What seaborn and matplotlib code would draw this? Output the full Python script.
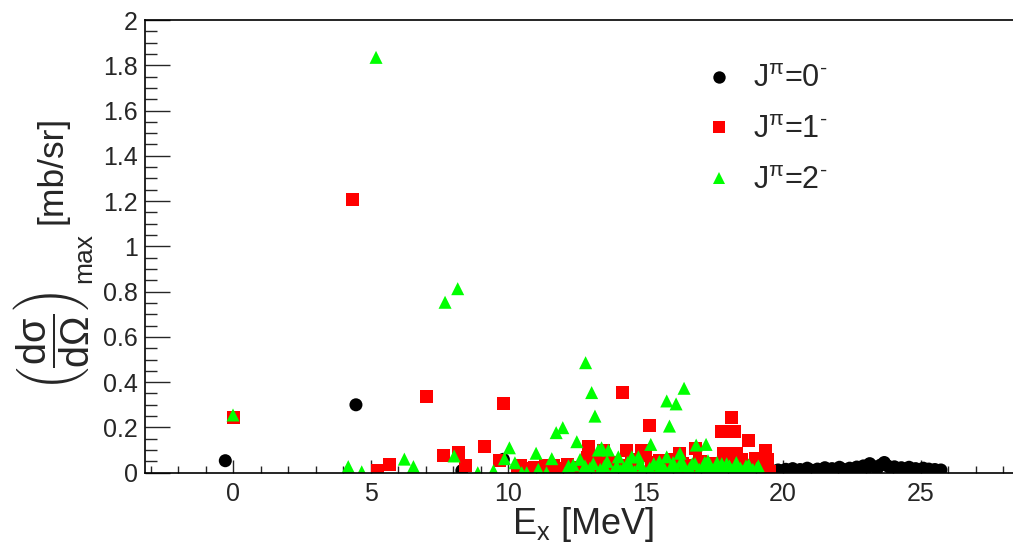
import numpy as np
import pandas as pd
import matplotlib
matplotlib.use("Agg")
import matplotlib.pyplot as plt
import seaborn as sns
from matplotlib.ticker import MultipleLocator, FuncFormatter

# ---------------- data ----------------
ex0 = [-0.28, 4.47, 8.32, 9.83, 12.45, 12.55, 14.07, 15.5, 15.7, 16.3, 17.0, 19.55,
       19.7, 19.82, 19.95, 20.1, 20.22, 20.35, 20.5, 20.62, 20.75, 20.88, 21.0, 21.12,
       21.25, 21.4, 21.52, 21.65, 21.78, 21.9, 22.05, 22.18, 22.3, 22.42, 22.55, 22.68,
       22.8, 22.92, 23.05, 23.15, 23.28, 23.42, 23.55, 23.68, 23.8, 23.92, 24.05, 24.18,
       24.3, 24.45, 24.58, 24.7, 24.82, 24.95, 25.1, 25.2, 25.3, 25.42, 25.52, 25.63, 25.74]
y0 = [0.053, 0.300, 0.009, 0.059, 0.002, 0.010, 0.012, 0.003, 0.005, 0.004, 0.006, 0.010,
      0.006, 0.012, 0.008, 0.015, 0.010, 0.018, 0.008, 0.014, 0.010, 0.020, 0.012, 0.008,
      0.016, 0.010, 0.022, 0.014, 0.018, 0.012, 0.024, 0.015, 0.010, 0.020, 0.013, 0.025,
      0.018, 0.030, 0.022, 0.040, 0.028, 0.018, 0.034, 0.045, 0.030, 0.020, 0.026, 0.016,
      0.022, 0.012, 0.024, 0.014, 0.018, 0.010, 0.020, 0.012, 0.016, 0.008, 0.014, 0.010, 0.012]

ex1 = [0.01, 4.36, 5.25, 5.69, 7.02, 7.65, 8.19, 8.44, 9.14, 9.68, 9.83, 10.35, 10.55,
       10.75, 10.95, 11.15, 11.35, 11.55, 11.8, 11.95, 12.15, 12.35, 12.6, 12.9, 12.92,
       12.98, 13.2, 13.47, 13.7, 13.9, 14.17, 14.3, 14.5, 14.7, 14.86, 15.0, 15.13, 15.3,
       15.5, 15.7, 15.9, 16.1, 16.25, 16.45, 16.6, 16.8, 16.98, 17.2, 17.4, 17.6, 17.75,
       17.84, 18.0, 18.07, 18.11, 18.25, 18.3, 18.4, 18.56, 18.74, 18.9, 18.98, 19.2,
       19.37, 19.4, 19.5,
       10.45, 10.65, 10.85, 11.05, 11.25, 11.45, 11.65, 12.05, 12.25, 12.45, 12.75, 13.05,
       13.35, 13.55, 13.8, 14.05, 14.4, 14.6, 15.2, 15.4, 15.8, 16.0, 16.35, 16.7, 17.05,
       17.3, 17.5, 17.9, 18.2, 18.5, 18.8, 19.1, 19.3, 19.45]
y1 = [0.245, 1.206, 0.009, 0.038, 0.336, 0.077, 0.090, 0.030, 0.115, 0.056, 0.304, 0.010, 0.020,
      0.005, 0.025, 0.012, 0.030, 0.008, 0.020, 0.020, 0.035, 0.010, 0.004, 0.065, 0.115,
      0.070, 0.004, 0.100, 0.030, 0.015, 0.355, 0.100, 0.040, 0.034, 0.100, 0.078, 0.210, 0.020,
      0.056, 0.010, 0.040, 0.020, 0.086, 0.005, 0.030, 0.108, 0.050, 0.015, 0.040, 0.027, 0.181,
      0.086, 0.020, 0.056, 0.246, 0.181, 0.086, 0.040, 0.027, 0.141, 0.004, 0.064, 0.015,
      0.096, 0.027, 0.005,
      0.030, 0.015, 0.010, 0.005, 0.020, 0.015, 0.030, 0.005, 0.025, 0.015, 0.030, 0.020,
      0.040, 0.010, 0.045, 0.030, 0.010, 0.060, 0.045, 0.010, 0.030, 0.060, 0.040, 0.015, 0.020,
      0.030, 0.010, 0.040, 0.010, 0.060, 0.030, 0.040, 0.010, 0.060]

ex2 = [0.0, 4.19, 4.68, 5.2, 6.23, 6.56, 7.71, 8.04, 8.17, 8.9, 9.47, 9.87, 10.05, 10.25,
       10.5, 10.68, 11.02, 11.1, 11.4, 11.59, 11.75, 11.99, 12.08, 12.37, 12.5, 12.62, 12.8,
       12.82, 12.98, 13.04, 13.16, 13.28, 13.4, 13.5, 13.65, 13.8, 14.01, 14.2, 14.35, 14.5,
       14.6, 14.74, 14.9, 15.05, 15.19, 15.3, 15.45, 15.6, 15.77, 15.77, 15.87, 15.95, 16.11,
       16.25, 16.4, 16.4, 16.55, 16.7, 16.84, 16.95, 17.1, 17.2, 17.27, 17.4, 17.55, 17.77,
       17.9, 18.05, 18.2, 18.35, 18.5, 18.65, 18.8, 19.04, 19.15,
       12.2, 12.7, 13.1, 13.35, 13.6, 13.95, 14.1, 14.45, 14.8, 15.15, 15.5, 15.7, 16.0,
       16.15, 16.3, 16.6, 16.8, 17.0, 17.15, 17.35, 17.6, 17.7, 17.95, 18.1, 18.3, 18.45,
       18.6, 18.75, 18.9, 19.1]
y2 = [0.255, 0.027, 0.004, 1.835, 0.060, 0.027, 0.753, 0.074, 0.813, 0.000, 0.009, 0.062, 0.110, 0.044,
      0.000, 0.000, 0.086, 0.015, 0.000, 0.062, 0.177, 0.199, 0.000, 0.034, 0.137, 0.059, 0.030,
      0.486, 0.020, 0.354, 0.250, 0.100, 0.110, 0.030, 0.100, 0.000, 0.070, 0.020, 0.045, 0.070,
      0.005, 0.070, 0.020, 0.000, 0.125, 0.040, 0.010, 0.030, 0.317, 0.070, 0.206, 0.020, 0.304,
      0.086, 0.373, 0.030, 0.005, 0.040, 0.122, 0.015, 0.030, 0.125, 0.053, 0.005, 0.025, 0.040,
      0.010, 0.030, 0.005, 0.025, 0.010, 0.030, 0.005, 0.020, 0.000,
      0.030, 0.005, 0.040, 0.015, 0.050, 0.030, 0.010, 0.025, 0.040, 0.020, 0.050, 0.015, 0.045,
      0.010, 0.050, 0.020, 0.040, 0.005, 0.045, 0.020, 0.045, 0.010, 0.040, 0.015, 0.045, 0.020,
      0.005, 0.035, 0.015, 0.030]

labels = ["J$^{\\pi}$=0$^{\u2010}$", "J$^{\\pi}$=1$^{\u2010}$", "J$^{\\pi}$=2$^{\u2010}$"]
colors = ["#000000", "#ff0000", "#00ff00"]
markers = ["o", "s", "^"]

df = pd.DataFrame({
    "Ex": ex0 + ex1 + ex2,
    "xs": y0 + y1 + y2,
    "state": [labels[0]] * len(ex0) + [labels[1]] * len(ex1) + [labels[2]] * len(ex2),
})

# ---------------- style ----------------
sns.set_theme(style="ticks")
plt.rcParams["font.family"] = ["Liberation Sans", "DejaVu Sans"]
plt.rcParams["mathtext.fontset"] = "custom"
plt.rcParams["mathtext.rm"] = "Liberation Sans"
plt.rcParams["mathtext.it"] = "Liberation Sans"
plt.rcParams["mathtext.bf"] = "Liberation Sans:bold"
plt.rcParams["mathtext.default"] = "regular"

fig = plt.figure(figsize=(10.13, 5.45), dpi=100)
L, R, B, T = 145, 1013, 472.7, 20
ax = fig.add_axes([L / 1013, 1 - B / 545, (R - L) / 1013, (B - T) / 545])

sns.scatterplot(data=df, x="Ex", y="xs", hue="state", style="state",
                hue_order=labels, style_order=labels,
                palette=dict(zip(labels, colors)), markers=dict(zip(labels, markers)),
                s=88, linewidth=0, edgecolor="none", ax=ax, legend=True)

ax.set_xlim(-3.2, 28.36)
ax.set_ylim(0, 2)
ax.set_xlabel("")
ax.set_ylabel("")

ax.xaxis.set_major_locator(MultipleLocator(5))
ax.xaxis.set_minor_locator(MultipleLocator(1))
ax.yaxis.set_major_locator(MultipleLocator(0.2))
ax.yaxis.set_minor_locator(MultipleLocator(0.05))
ax.yaxis.set_major_formatter(FuncFormatter(lambda v, p: "%g" % round(v, 2)))
ax.xaxis.set_major_formatter(FuncFormatter(lambda v, p: "%g" % v))

ax.tick_params(axis="x", which="major", direction="in", length=9.4, width=1.0,
               labelsize=18, pad=6.5, top=False)
ax.tick_params(axis="x", which="minor", direction="in", length=4.7, width=1.0, top=False)
ax.tick_params(axis="y", which="major", direction="in", length=18, width=1.0,
               labelsize=18, pad=5, right=False)
ax.tick_params(axis="y", which="minor", direction="in", length=8.6, width=1.0, right=False)

for side in ["left", "bottom", "top"]:
    ax.spines[side].set_visible(True)
    ax.spines[side].set_linewidth(1.2)
    ax.spines[side].set_color("black")
ax.spines["right"].set_visible(False)

handles, labs = ax.get_legend_handles_labels()
leg = ax.legend(handles, labs, frameon=False, fontsize=22, loc="upper left",
                bbox_to_anchor=(691 / 1013, 1 - 49 / 545), bbox_transform=fig.transFigure,
                handlelength=0.8, handletextpad=0.72, labelspacing=0.68, borderpad=0,
                markerscale=0.95)

fig.text(583 / 1013, 1 - 525 / 545, r"E$_{x}$ [MeV]", fontsize=26, ha="center", va="center")
fig.text(52 / 1013, 1 - 341 / 545,
         r"$\left(\dfrac{d\sigma}{d\Omega}\right)$",
         fontsize=28.5, ha="center", va="center", rotation=90)
fig.text(84 / 1013, 1 - 258 / 545, "max",
         fontsize=19, ha="center", va="center", rotation=90)
fig.text(52 / 1013, 1 - 170 / 545, "[mb/sr]",
         fontsize=25.5, ha="center", va="center", rotation=90)

fig.savefig("out.png", dpi=100)
